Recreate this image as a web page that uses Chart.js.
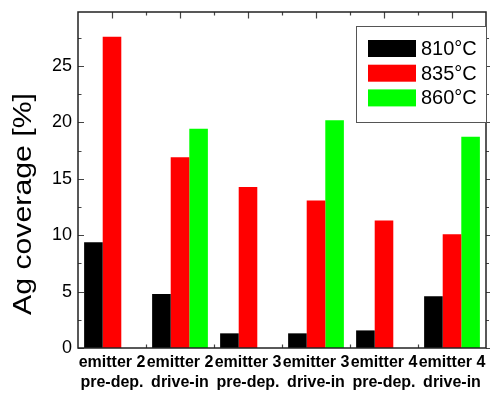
<!DOCTYPE html>
<html><head><meta charset="utf-8">
<script src="https://cdn.jsdelivr.net/npm/chart.js@4/dist/chart.umd.min.js"></script>
<style>html,body{margin:0;padding:0;background:#fff}#wrap{width:490px;height:394px}</style>
</head><body><div id="wrap"><canvas id="c" width="490" height="394"></canvas></div>
<script>
const categories = [
  ['emitter 2','pre-dep.'],
  ['emitter 2','drive-in'],
  ['emitter 3','pre-dep.'],
  ['emitter 3','drive-in'],
  ['emitter 4','pre-dep.'],
  ['emitter 4','drive-in']
];
const seriesLabels = ['810°C','835°C','860°C'];
const s810 = [9.37, 4.79, 1.30, 1.30, 1.56, 4.58];
const s835 = [27.61, 16.92, 14.29, 13.08, 11.30, 10.09];
const s860 = [null, 19.44, null, 20.21, null, 18.73];
const yMajorTicks = [0, 5, 10, 15, 20, 25];
const yMinorTicks = [2.5, 7.5, 12.5, 17.5, 22.5, 27.5];
const yMax = 29.8;
const yTitle = 'Ag coverage [%]';

const FONT = '"Liberation Sans", Arial, Helvetica, sans-serif';
const colors = ['#000000', '#ff0000', '#00ff00'];

const framePlugin = {
  id: 'frame',
  beforeDatasetsDraw(chart) {
    const ctx = chart.ctx, a = chart.chartArea, xs = chart.scales.x, ys = chart.scales.y;
    ctx.save();
    ctx.strokeStyle = '#444';
    ctx.lineWidth = 1.2;
    ctx.beginPath();
    yMajorTicks.forEach(v => {
      const p = Math.round(ys.getPixelForValue(v)) + 0.5;
      ctx.moveTo(a.left, p); ctx.lineTo(a.left + 6, p);
      ctx.moveTo(a.right, p); ctx.lineTo(a.right + 5, p);
    });
    yMinorTicks.forEach(v => {
      const p = Math.round(ys.getPixelForValue(v)) + 0.5;
      ctx.moveTo(a.left, p); ctx.lineTo(a.left + 3.5, p);
      ctx.moveTo(a.right, p); ctx.lineTo(a.right + 3, p);
    });
    for (let i = 0; i < categories.length; i++) {
      const c = Math.round(xs.getPixelForValue(i)) + 0.5;
      ctx.moveTo(c, a.top); ctx.lineTo(c, a.top + 6.5);
      ctx.moveTo(c, a.bottom); ctx.lineTo(c, a.bottom - 6.5);
      if (i < categories.length - 1) {
        const b = Math.round((xs.getPixelForValue(i) + xs.getPixelForValue(i + 1)) / 2) + 0.5;
        ctx.moveTo(b, a.top); ctx.lineTo(b, a.top + 3.5);
        ctx.moveTo(b, a.bottom); ctx.lineTo(b, a.bottom - 3.5);
      }
    }
    ctx.stroke();
    ctx.restore();
  },
  afterDatasetsDraw(chart) {
    const ctx = chart.ctx, a = chart.chartArea;
    ctx.save();
    ctx.strokeStyle = '#222';
    ctx.lineWidth = 1.5;
    ctx.strokeRect(a.left, a.top, a.right - a.left, a.bottom - a.top);
    ctx.restore();
  },
  afterDraw(chart) {
    const ctx = chart.ctx, a = chart.chartArea;
    // y axis title
    ctx.save();
    ctx.font = '25px ' + FONT;
    const w = ctx.measureText(yTitle).width;
    const target = 222;
    ctx.translate(24, 204);
    ctx.rotate(-Math.PI / 2);
    ctx.scale(target / w, 1);
    ctx.fillStyle = '#000';
    ctx.textAlign = 'center';
    ctx.textBaseline = 'middle';
    ctx.fillText(yTitle, 0, 0);
    ctx.restore();
    // legend
    ctx.save();
    const lx = 356, ly = 26, lw = a.right - 356, lh = 96;
    ctx.fillStyle = '#fff';
    ctx.fillRect(lx, ly, lw, lh);
    ctx.strokeStyle = '#555';
    ctx.lineWidth = 1;
    ctx.strokeRect(lx + 0.5, ly + 0.5, lw, lh);
    ctx.font = '20px ' + FONT;
    ctx.textBaseline = 'middle';
    ctx.textAlign = 'left';
    chart.data.datasets.forEach((ds, i) => {
      const cy = 48.5 + i * 24.7;
      ctx.fillStyle = ds.backgroundColor;
      ctx.fillRect(368, cy - 8.5, 48, 17);
      ctx.fillStyle = '#000';
      ctx.fillText(ds.label, 421, cy + 1);
    });
    ctx.restore();
  }
};

new Chart(document.getElementById('c'), {
  type: 'bar',
  data: {
    labels: categories,
    datasets: [
      { label: seriesLabels[0], data: s810, backgroundColor: colors[0] },
      { label: seriesLabels[1], data: s835, backgroundColor: colors[1] },
      { label: seriesLabels[2], data: s860, backgroundColor: colors[2] }
    ]
  },
  options: {
    responsive: false,
    devicePixelRatio: 1,
    animation: false,
    layout: { padding: { top: 12, right: 4, left: 0, bottom: 0 } },
    datasets: { bar: { categoryPercentage: 0.82, barPercentage: 1.0, borderWidth: 0 } },
    plugins: { legend: { display: false }, tooltip: { enabled: false } },
    scales: {
      x: {
        grid: { display: false, drawTicks: false },
        border: { display: false },
        ticks: {
          autoSkip: false, maxRotation: 0, minRotation: 0, padding: 5,
          color: '#000', font: { family: FONT, size: 16, weight: 'bold', lineHeight: 1.25 }
        },
        afterFit(s) { s.height = 46; s.paddingLeft = 0; s.paddingRight = 0; }
      },
      y: {
        min: 0, max: yMax,
        grid: { display: false, drawTicks: false },
        border: { display: false },
        ticks: { padding: 6, color: '#000', font: { family: FONT, size: 18 } },
        afterBuildTicks(s) { s.ticks = yMajorTicks.map(v => ({ value: v })); },
        afterFit(s) { s.width = 78; s.paddingTop = 0; s.paddingBottom = 0; }
      }
    }
  },
  plugins: [framePlugin]
});
</script></body></html>
